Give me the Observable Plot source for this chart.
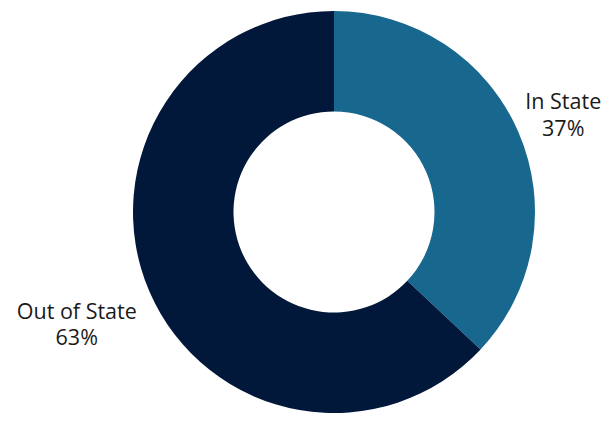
<!DOCTYPE html>
<html><head><meta charset="utf-8">
<script src="https://cdn.jsdelivr.net/npm/d3@7"></script>
<script src="https://cdn.jsdelivr.net/npm/@observablehq/plot@0.6"></script>
<style>body{margin:0;background:#fff}</style>
</head><body><div id="chart"></div>
<script>
const categories = ["In State", "Out of State"];
const shares = [37, 63];
const colors = ["#17678f", "#02183a"];

const data = categories.map((c, i) => ({category: c, value: shares[i], color: colors[i]}));
const pie = d3.pie().value(d => d.value).sort(null)(data);

const innerFrac = 0.5;
const R_PX = 201;
const labels = pie.map(p => {
  const a = (p.startAngle + p.endAngle) / 2;
  const left = Math.sin(a) < 0;
  const r = 1.24;
  const ox = left ? -29 / R_PX : 0;
  const oy = left ? -13 / R_PX : 0;
  return {
    text: `${p.data.category}\n${p.data.value}%`,
    x: r * Math.sin(a) + ox,
    y: r * Math.cos(a) + oy
  };
});

function donut(index, scales) {
  const cx = scales.x(0), cy = scales.y(0);
  const R = scales.x(1) - cx;
  const arc = d3.arc().innerRadius(R * innerFrac).outerRadius(R);
  const g = d3.create("svg:g").attr("transform", `translate(${cx},${cy})`);
  g.selectAll("path").data(pie).join("path")
    .attr("d", arc)
    .attr("fill", d => d.data.color);
  return g.node();
}

const chart = Plot.plot({
  width: 613,
  height: 423,
  margin: 0,
  x: {domain: [-1, 1], range: [334 - R_PX, 334 + R_PX], axis: null},
  y: {domain: [-1, 1], range: [212 + 200, 212 - 200], axis: null},
  style: {fontFamily: "'Open Sans', 'Noto Sans', sans-serif", background: "#fff"},
  marks: [
    donut,
    Plot.text(labels, {
      x: "x", y: "y", text: "text",
      fontSize: 21.5, lineHeight: 1.22, fill: "#1a1a1a", textAnchor: "middle"
    })
  ]
});
document.getElementById("chart").append(chart);
</script>
</body></html>
